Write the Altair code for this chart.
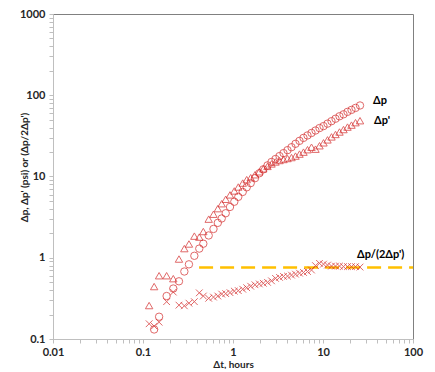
import altair as alt
import pandas as pd

# Time (hours)
t = [0.117, 0.133, 0.151, 0.183, 0.217, 0.251, 0.288, 0.324, 0.372, 0.422,
     0.468, 0.537, 0.607, 0.678, 0.749, 0.830, 0.926, 1.034, 1.145, 1.282,
     1.420, 1.573, 1.755, 1.960, 2.171, 2.417, 2.678, 2.967, 3.287, 3.640,
     4.033, 4.467, 4.948, 5.482, 6.072, 6.727, 7.452, 8.254, 9.144, 10.13,
     11.22, 12.43, 13.77, 15.25, 16.90, 18.72, 20.73, 22.97, 25.77]

# Pressure change (psi)
dp = [None, 0.131, 0.188, 0.338, 0.418, 0.513, 0.677, 0.830, 1.057, 1.296,
      1.489, 1.881, 2.261, 2.688, 3.045, 3.530, 4.219, 4.890, 5.620, 6.459,
      7.362, 8.299, 9.537, 10.96, 12.25, 13.70, 15.10, 16.42, 17.84, 19.40,
      21.10, 22.93, 25.27, 27.48, 29.87, 32.02, 34.34, 36.81, 39.47, 41.72,
      44.73, 47.95, 51.41, 55.12, 58.27, 62.47, 66.05, 69.83, 74.84]

# Pressure derivative (psi)
dpd = [0.258, 0.442, 0.601, 0.601, 0.553, 0.964, 1.296, 1.477, 1.846, 1.795,
       2.102, 2.987, 3.434, 4.023, 4.626, 5.243, 5.940, 6.640, 7.425, 8.299,
       9.148, 9.672, 10.51, 11.43, 12.43, 13.32, 14.28, 15.10, 15.74, 16.19,
       16.65, 17.12, 17.84, 18.87, 19.95, 21.38, 22.93, 21.69, 23.90, 25.98,
       28.25, 30.72, 32.93, 35.30, 37.84, 40.57, 42.90, 45.99, 48.62]

# Ratio dp/(2 dp')
ratio = [0.154, 0.144, 0.161, 0.288, 0.378, 0.261, 0.256, 0.276, 0.288, 0.370,
         0.338, 0.317, 0.328, 0.338, 0.357, 0.362, 0.372, 0.388, 0.394, 0.410,
         0.428, 0.446, 0.465, 0.476, 0.485, 0.498, 0.520, 0.557, 0.573, 0.589,
         0.594, 0.611, 0.628, 0.646, 0.659, 0.677, 0.706, 0.800, 0.853, 0.834,
         0.812, 0.789, 0.789, 0.789, 0.778, 0.778, 0.778, 0.778, 0.768]

# Reference line (radial flow ratio)
ref_t = [0.42, 100]
ref_v = [0.76, 0.76]

label_text = ["Δp", "Δp'", "Δp/(2Δp')"]
label_t = [35.9, 36.9, 23.9]
label_v = [86, 48, 1.09]

x_ticks = [m * 10.0 ** e for e in range(-2, 2) for m in range(1, 10)] + [100]
y_ticks = [m * 10.0 ** e for e in range(-1, 3) for m in range(1, 10)] + [1000]

RED = "#D42A2A"
FONT = "Lato"

df = pd.DataFrame({"t": t, "dp": dp, "dpd": dpd, "ratio": ratio})
ref = pd.DataFrame({"t": ref_t, "v": ref_v})
labels = pd.DataFrame({"label": label_text, "t": label_t, "v": label_v})

label_expr = ("abs(log(datum.value)/LN10 - round(log(datum.value)/LN10)) < 0.001"
              " ? format(datum.value, '~g') : ''")

xscale = alt.Scale(type="log", domain=[0.01, 100], nice=False)
yscale = alt.Scale(type="log", domain=[0.1, 1000], nice=False)

xaxis = alt.Axis(title="Δt, hours", values=x_ticks, labelExpr=label_expr,
                 labelFlush=False, labelOverlap=False, grid=False,
                 tickSize=4, labelPadding=3, titleBaseline="middle", titleY=25)
yaxis = alt.Axis(title="Δp, Δp' (psi) or (Δp/2Δp')", values=y_ticks,
                 labelExpr=label_expr, labelOverlap=False, grid=False,
                 tickSize=4, labelPadding=4, titleBaseline="middle",
                 titleX=-29, titleY=153, titleAngle=270)

base = alt.Chart(df)

x_enc = alt.X("t:Q", scale=xscale, axis=xaxis)

circles = base.mark_point(shape="circle", filled=False, color=RED, size=55,
                          strokeWidth=1, clip=True).encode(
    x=x_enc, y=alt.Y("dp:Q", scale=yscale, axis=yaxis))
tris = base.mark_point(shape="triangle-up", filled=False, color=RED, size=55,
                       strokeWidth=1, clip=True).encode(
    x=x_enc, y=alt.Y("dpd:Q", scale=yscale, axis=yaxis))
crosses = base.mark_point(shape="M-1,-1L1,1M-1,1L1,-1", filled=False, color=RED,
                          size=45, strokeWidth=1, clip=True).encode(
    x=x_enc, y=alt.Y("ratio:Q", scale=yscale, axis=yaxis))

refline = alt.Chart(ref).mark_line(color="#FFC000", strokeWidth=2.5,
                                   strokeDash=[14, 7], clip=True).encode(
    x=alt.X("t:Q", scale=xscale, axis=xaxis),
    y=alt.Y("v:Q", scale=yscale, axis=yaxis))

texts = alt.Chart(labels).mark_text(align="left", baseline="middle",
                                    fontWeight="bold", fontSize=11,
                                    font=FONT, color="#000000").encode(
    x=alt.X("t:Q", scale=xscale, axis=xaxis),
    y=alt.Y("v:Q", scale=yscale, axis=yaxis),
    text="label:N")

chart = alt.layer(refline, tris, circles, crosses, texts).properties(
    width=360, height=325,
    autosize=alt.AutoSizeParams(type="none"),
    padding={"left": 45, "top": 6, "right": 14, "bottom": 30},
).configure_view(
    stroke="#808080", strokeWidth=1
).configure_axis(
    domainColor="#BFBFBF", tickColor="#BFBFBF",
    labelFont=FONT, labelFontSize=11, labelFontWeight="bold", labelColor="#262626",
    titleFont=FONT, titleFontSize=10, titleFontWeight="bold", titleColor="#262626",
)

chart.save("out.html", embed_options={"renderer": "svg", "actions": False})
